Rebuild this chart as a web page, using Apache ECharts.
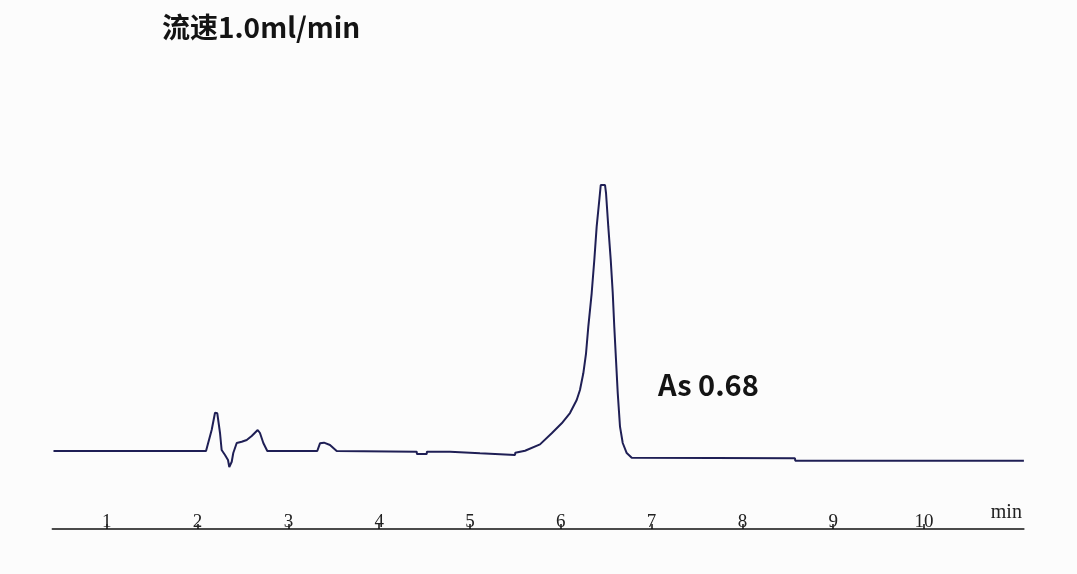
<!DOCTYPE html>
<html>
<head>
<meta charset="utf-8">
<script src="https://cdn.jsdelivr.net/npm/echarts@6/dist/echarts.min.js"></script>
<style>html,body{margin:0;padding:0;background:#fcfcfc;}#c{width:1077px;height:574px;}</style>
</head>
<body>
<div id="c"></div>
<script>
// retention time (min)
var times = [0.413, 2.093, 2.155, 2.192, 2.217, 2.247, 2.265, 2.302, 2.335, 2.349, 2.376, 2.393, 2.431, 2.486, 2.541, 2.596, 2.662, 2.687, 2.724, 2.768,
  3.318, 3.348, 3.392, 3.458, 3.532,
  4.413, 4.416, 4.523, 4.526, 4.780, 4.783, 5.110, 5.113, 5.496, 5.499, 5.606, 5.771, 5.900,
  6.010, 6.101, 6.175, 6.211, 6.248, 6.278, 6.303, 6.340, 6.369, 6.395, 6.424, 6.440, 6.487, 6.498, 6.523, 6.550, 6.572, 6.589, 6.608, 6.627, 6.652, 6.682, 6.726, 6.781,
  8.579, 8.582, 11.10];
// detector signal (relative units)
var signal = [22.67, 22.67, 28.78, 33.81, 33.63, 27.91, 22.97, 21.51, 20.06, 18.02, 19.56, 22.09, 25.00, 25.38, 25.87, 27.03, 28.78, 27.91, 25.00, 22.67,
  22.67, 24.91, 25.09, 24.42, 22.67,
  22.47, 21.80, 21.80, 22.47, 22.47, 22.01, 22.01, 21.51, 21.51, 22.18, 22.76, 24.60, 27.82,
  30.73, 33.72, 37.50, 40.41, 45.26, 51.08, 58.81, 68.52, 78.20, 87.88, 95.64, 100, 100, 97.67, 87.88, 78.20, 68.60, 58.81, 49.13, 39.53, 29.74, 25.00, 22.09, 20.73,
  20.55, 19.85, 19.85];
var tickValues = [1, 2, 3, 4, 5, 6, 7, 8, 9, 10];
var titleText = '流速1.0ml/min';
var noteText = 'As 0.68';
var axisName = 'min';

var data = times.map(function (t, i) { return [t, signal[i]]; });

var chart = echarts.init(document.getElementById('c'), null, {renderer: 'canvas'});
chart.setOption({
  backgroundColor: '#fcfcfc',
  animation: false,
  title: [
    {text: titleText, left: 157, top: 8,
     textStyle: {fontFamily: 'Noto Sans CJK SC', fontWeight: 'bold', fontSize: 28, color: '#141414'}},
    {text: noteText, left: 653, top: 365,
     textStyle: {fontFamily: 'Noto Sans CJK SC', fontWeight: 'bold', fontSize: 29, color: '#141414'}}
  ],
  grid: {left: 52.3, right: 53.1, top: 185, bottom: 45},
  xAxis: {
    type: 'value', min: 0.4, max: 11.1,
    name: axisName, nameLocation: 'end', nameGap: -2,
    nameTextStyle: {fontFamily: 'Liberation Serif', fontSize: 20, color: '#222', align: 'right', verticalAlign: 'bottom', padding: [0, 0, 6, 0]},
    axisLine: {show: true, lineStyle: {color: '#111', width: 1.5}},
    axisTick: {show: true, inside: true, length: 5, customValues: tickValues, lineStyle: {color: '#111', width: 1.5}},
    axisLabel: {show: true, inside: true, margin: -3, customValues: tickValues,
      fontFamily: 'Liberation Serif', fontSize: 19, color: '#222'},
    splitLine: {show: false}
  },
  yAxis: {type: 'value', min: 0, max: 100, show: false},
  series: [{
    type: 'line', data: data, symbol: 'none', smooth: false,
    lineStyle: {color: '#1f1f55', width: 2}
  }]
});
</script>
</body>
</html>
